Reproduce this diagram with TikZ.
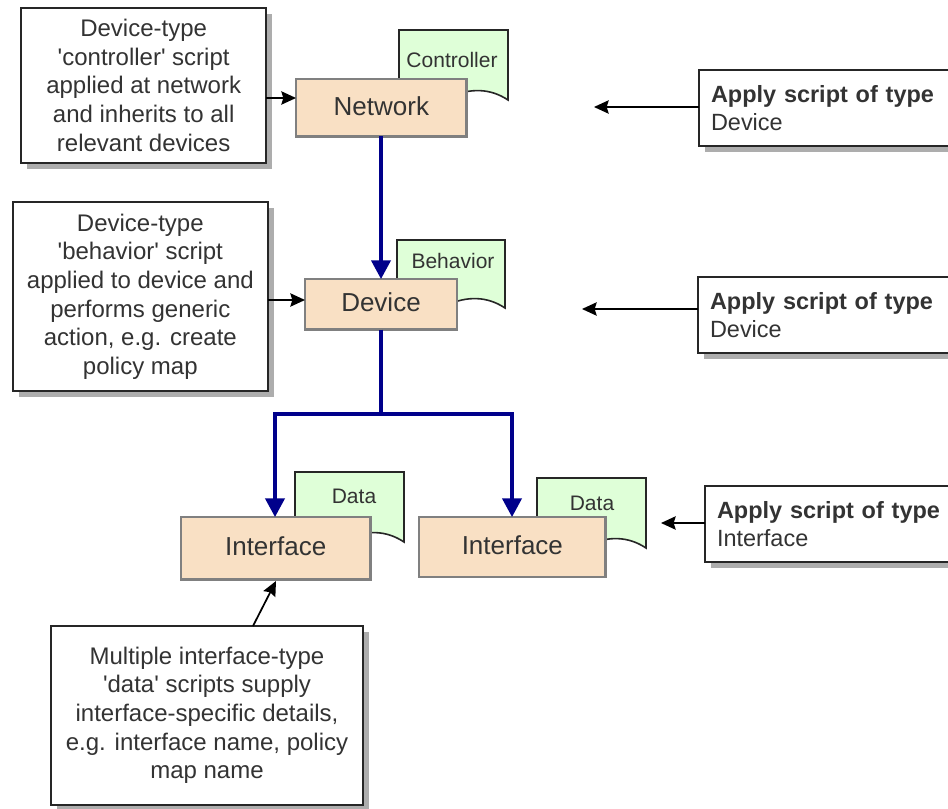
\documentclass[tikz,border=0pt]{standalone}
\usepackage{fontspec}
\setmainfont{Liberation Sans}
\usetikzlibrary{arrows.meta,shadows}
\definecolor{boxfill}{HTML}{F9E0C4}
\definecolor{docfill}{HTML}{DFFFD8}
\definecolor{flowblue}{HTML}{00008B}
\definecolor{ink}{HTML}{333333}
\definecolor{edge}{HTML}{262626}
\newcommand{\sq}{\textquotesingle}
\tikzset{
  x=0.75pt,y=-0.75pt,
  orangebox/.style={draw=black!50,line width=2.2pt,fill=boxfill,text=ink,anchor=north west,inner sep=0pt,outer sep=0pt,text depth=3pt,font=\fontsize{19.5}{23}\selectfont},
  notebox/.style={draw=edge,line width=1.4pt,fill=white,text=ink,anchor=north west,inner sep=0pt,outer sep=0pt,align=center,font=\fontsize{18}{21.5}\selectfont,drop shadow={shadow xshift=4.5pt,shadow yshift=-4.5pt,fill=black!32,opacity=1}},
  sidebox/.style={notebox,align=left,text width=182pt,font=\fontsize{17.6}{21.5}\selectfont},
  docshape/.style={draw=edge,line width=1.2pt,fill=docfill,line join=miter},
  doclabel/.style={text=ink,inner sep=0pt,font=\fontsize{15.75}{19}\selectfont},
  blackflow/.style={draw=black,line width=1.3pt,-{Stealth[length=11pt,width=10pt,inset=1.5pt]}},
  blueflow/.style={draw=flowblue,line width=2.3pt},
  bluearrow/.style={blueflow,-{Triangle[length=14pt,width=14.5pt]}}
}
\begin{document}
\begin{tikzpicture}
\useasboundingbox (0,0) rectangle (948,809);
\clip (0,0) rectangle (948,809);
% script documents
\draw[docshape] (399,30) -- (508,30) -- (508,100) .. controls (490,88) and (470,88) .. (450,97) -- (399,97) -- cycle;
\draw[docshape] (397,240) -- (505,240) -- (505,308) .. controls (487,296) and (467,296) .. (447,305) -- (397,305) -- cycle;
\draw[docshape] (295,472) -- (404,472) -- (404,542) .. controls (386,530) and (366,530) .. (346,539) -- (295,539) -- cycle;
\draw[docshape] (537,478) -- (646,478) -- (646,548) .. controls (628,536) and (608,536) .. (588,545) -- (537,545) -- cycle;
\node[doclabel] (lc) at (452,60) {Controller};
\node[doclabel] (lb) at (453,261) {Behavior};
\node[doclabel] (ld1) at (354,496) {Data};
\node[doclabel] (ld2) at (592,503) {Data};
% main boxes
\node[orangebox,minimum width=128pt,minimum height=43pt] (net) at (296,79) {Network};
\node[orangebox,minimum width=114pt,minimum height=38pt] (dev) at (305,279) {Device};
\node[orangebox,minimum width=142pt,minimum height=47pt] (if1) at (181,517) {Interface};
\node[orangebox,minimum width=140pt,minimum height=45pt] (if2) at (419,517) {Interface};
% note boxes
\node[notebox,minimum width=184pt,minimum height=116pt] (t1) at (21,8) {Device-type\\\sq controller\sq\ script\\applied at network\\and inherits to all\\relevant devices};
\node[notebox,minimum width=191pt,minimum height=142pt] (t2) at (13,202) {Device-type\\\sq behavior\sq\ script\\applied to device and\\performs generic\\action, e.g. create\\policy map};
\node[notebox,minimum width=234pt,minimum height=134pt] (t3) at (51,626) {Multiple interface-type\\\sq data\sq\ scripts supply\\interface-specific details,\\e.g. interface name, policy\\map name};
\node[sidebox,minimum width=200pt,minimum height=57pt] (s1) at (699,70) {\textbf{Apply script of type}\\Device};
\node[sidebox,minimum width=200pt,minimum height=57pt] (s2) at (698,277) {\textbf{Apply script of type}\\Device};
\node[sidebox,minimum width=200pt,minimum height=57pt] (s3) at (705,486) {\textbf{Apply script of type}\\Interface};
% free ends and junctions
\coordinate (e1) at (296,98);
\coordinate (e2) at (305,300);
\coordinate (e3) at (276,581);
\coordinate (f3) at (253,626);
\coordinate (a1) at (594,107);
\coordinate (a2) at (582,309);
\coordinate (a3) at (661,523);
\coordinate (j) at (381,414);
\coordinate (jl) at (275,414);
\coordinate (jr) at (512,414);
\coordinate (il) at (275,517);
\coordinate (ir) at (512,517);
% connectors
\draw[blackflow] (t1.east |- e1) -- (e1);
\draw[blackflow] (t2.east |- e2) -- (e2);
\draw[blackflow] (f3) -- (e3);
\draw[blackflow] (s1.west |- a1) -- (a1);
\draw[blackflow] (s2.west |- a2) -- (a2);
\draw[blackflow] (s3.west |- a3) -- (a3);
\draw[bluearrow] (net.south -| j) -- (dev.north -| j);
\draw[blueflow] (dev.south -| j) -- (j);
\draw[bluearrow] (j) -- (jl) -- (il);
\draw[bluearrow] (j) -- (jr) -- (ir);
\end{tikzpicture}
\end{document}
